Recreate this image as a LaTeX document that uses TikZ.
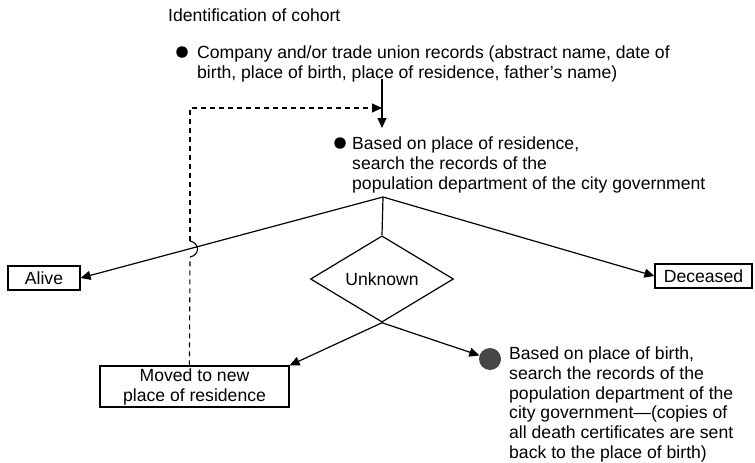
\documentclass[tikz,border=0pt]{standalone}
\usepackage{fontspec}
\setmainfont{Liberation Sans}
\usetikzlibrary{arrows.meta,positioning,shapes.geometric,calc}
\tikzset{
  lbl/.style={font=\fontsize{17.6}{20}\selectfont, inner sep=0pt, align=left},
  outbox/.style={draw, line width=1.2pt, font=\fontsize{17.6}{20}\selectfont, inner sep=0pt, align=center},
  flow/.style={line width=1.2pt, -{Triangle[length=10pt,width=9pt]}},
  loopline/.style={line width=1.1pt, dash pattern=on 5pt off 4pt},
  dot/.style={circle, fill=black, inner sep=0pt, minimum size=11.5pt}
}
\begin{document}
\begin{tikzpicture}[x=1pt,y=-1pt]
  \useasboundingbox (0,0) rectangle (755,463);

  % heading
  \node[lbl, anchor=west] (title) at (168,15) {Identification of cohort};

  % company records
  \node[dot] (b1) at (182,52) {};
  \node[lbl, anchor=north west] (rec) at (197,45.5)
    {Company and/or trade union records (abstract name, date of\\birth, place of birth, place of residence, father's name)};

  % city records by residence
  \node[dot] (b2) at (340,143) {};
  \node[lbl, anchor=north west] (res) at (352,136.5)
    {Based on place of residence,\\search the records of the\\population department of the city government};
  \coordinate (src) at (382,79);
  \coordinate (in) at (382,128);
  \coordinate (merge) at (382,108);
  \draw[flow] (src) -- (in);

  % outcomes
  \coordinate (j) at (383,197);
  \node[outbox, minimum width=72pt, minimum height=24pt] (alive) at (44,278) {Alive};
  \node[outbox, minimum width=97pt, minimum height=24pt] (dec) at (703.5,276) {Deceased};
  \node[draw, diamond, line width=1.2pt, minimum width=143pt, minimum height=84pt, inner sep=0pt,
    font=\fontsize{17.6}{20}\selectfont] (unk) at (382,279) {Unknown};
  \draw[line width=1.2pt] (j) -- (unk.north);
  \draw[flow] (j) -- (alive.east);
  \draw[flow] (j) -- (dec.west);

  % unknown: moved or born elsewhere
  \node[outbox, minimum width=189pt, minimum height=41pt] (moved) at (194.5,386.5) {Moved to new\\place of residence};
  \node[circle, fill=black!72, inner sep=0pt, minimum size=22pt] (b3) at (490,359) {};
  \node[lbl, anchor=north west, font=\fontsize{17.6}{19.8}\selectfont] (birth) at (509,346.5)
    {Based on place of birth,\\search the records of the\\population department of the\\city government---(copies of\\all death certificates are sent\\back to the place of birth)};
  \draw[flow] (unk.south) -- (moved.north east);
  \draw[flow] (unk.south) -- (b3);

  % feedback loop, hops over the Alive line
  \coordinate (fb) at ($(moved.north west)+(90,0)$);
  \coordinate (hopin) at (190,257);
  \coordinate (hopout) at (190,241);
  \draw[loopline] (fb) -- (hopin);
  \draw[line width=1.1pt] (hopin) .. controls ($(hopin)+(10,-2)$) and ($(hopout)+(10,2)$) .. (hopout);
  \draw[loopline, -{Triangle[length=10pt,width=9pt]}] (hopout) |- (merge);

\end{tikzpicture}
\end{document}
